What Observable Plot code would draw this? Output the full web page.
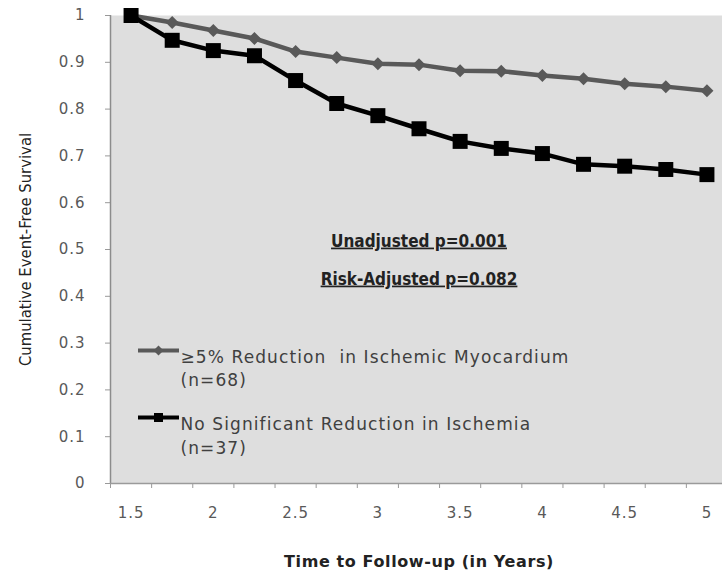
<!DOCTYPE html>
<html><head><meta charset="utf-8">
<script src="https://cdn.jsdelivr.net/npm/d3@7"></script>
<script src="https://cdn.jsdelivr.net/npm/@observablehq/plot@0.6"></script>
<style>
body{margin:0;background:#fff;}
#chart svg{display:block;overflow:hidden}
</style></head><body><div id="chart"></div>
<script>
const years = [1.5,1.75,2,2.25,2.5,2.75,3,3.25,3.5,3.75,4,4.25,4.5,4.75,5];
const reduced = [1.0,0.985,0.968,0.951,0.923,0.91,0.897,0.895,0.882,0.881,0.872,0.865,0.854,0.848,0.839];
const notReduced = [1.0,0.947,0.925,0.914,0.861,0.812,0.786,0.758,0.731,0.716,0.705,0.682,0.678,0.671,0.66];
const seriesNames = ["≥5% Reduction  in Ischemic Myocardium", "No Significant Reduction in Ischemia"];
const seriesN = ["(n=68)", "(n=37)"];
const xTickLabels = [1.5,2,2.5,3,3.5,4,4.5,5];
const yTicks = [0,0.1,0.2,0.3,0.4,0.5,0.6,0.7,0.8,0.9,1];
const annotations = ["Unadjusted p=0.001", "Risk-Adjusted p=0.082"];
const xTitle = "Time to Follow-up (in Years)";
const yTitle = "Cumulative Event-Free Survival";

const grayColor = "#595959";
const dataA = years.map((x,i)=>({x, y: reduced[i]}));
const dataB = years.map((x,i)=>({x, y: notReduced[i]}));
const boundaries = years.map(d=>d-0.125).concat([years[years.length-1]+0.125]);

const diamond = {draw(ctx,size){const r=Math.sqrt(size/Math.PI);ctx.moveTo(0,-r);ctx.lineTo(r,0);ctx.lineTo(0,r);ctx.lineTo(-r,0);ctx.closePath();}};
const square = {draw(ctx,size){const r=Math.sqrt(size/Math.PI);ctx.rect(-r,-r,2*r,2*r);}};
const hline = {draw(ctx,size){const r=Math.sqrt(size/Math.PI);ctx.moveTo(-r,0);ctx.lineTo(r,0);}};

const sans = "DejaVu Sans";
const cond = "DejaVu Sans Condensed";
const legendText = (t, dy) => Plot.text([t], {frameAnchor: "top-left", dx: 70, dy, text: d=>d, textAnchor: "start", fontFamily: sans, fontSize: 17, fill: "#404040"});

const chart = Plot.plot({
  width: 722, height: 572,
  marginLeft: 110, marginTop: 15, marginBottom: 89, marginRight: -5,
  style: {fontFamily: sans, fontSize: "15px", color: "#595959", background: "#fff"},
  x: {domain: [1.375, 5.125]},
  y: {domain: [0, 1]},
  marks: [
    Plot.frame({fill: "#dedede", stroke: null}),
    Plot.axisY({ticks: yTicks, tickFormat: d=>String(d), tickSize: 5, tickPadding: 20, stroke: "#999", fill: "#595959", label: null, fontSize: 15}),
    Plot.axisX({ticks: boundaries, tickFormat: ()=>"", tickSize: 5, stroke: "#999", label: null}),
    Plot.axisX({ticks: xTickLabels, tickFormat: d=>String(d), tickSize: 0, tickPadding: 24, fill: "#595959", label: null, fontSize: 15}),
    Plot.ruleX([1.375], {stroke: "#8c8c8c", strokeWidth: 1.5}),
    Plot.ruleY([0], {stroke: "#9a9a9a", strokeWidth: 1.5}),
    Plot.line(dataA, {x: "x", y: "y", stroke: grayColor, strokeWidth: 4.5}),
    Plot.dot(dataA, {x: "x", y: "y", symbol: diamond, r: 6.5, fill: grayColor, stroke: null}),
    Plot.line(dataB, {x: "x", y: "y", stroke: "#000", strokeWidth: 4.5}),
    Plot.dot(dataB, {x: "x", y: "y", symbol: square, r: 7.5, fill: "#000", stroke: null}),
    // annotations
    Plot.text([annotations[0]], {frameAnchor: "top", dx: 0, dy: 219, text: d=>d, fontWeight: "bold", fontFamily: cond, fontSize: 17, fill: "#222"}),
    Plot.text([annotations[1]], {frameAnchor: "top", dx: 0, dy: 257, text: d=>d, fontWeight: "bold", fontFamily: cond, fontSize: 17, fill: "#222"}),
    // legend
    Plot.dot([0], {frameAnchor: "top-left", dx: 48, dy: 335, symbol: hline, r: 20.5, stroke: grayColor, strokeWidth: 4}),
    Plot.dot([0], {frameAnchor: "top-left", dx: 48, dy: 335, symbol: diamond, r: 5, fill: grayColor}),
    legendText(seriesNames[0], 335),
    legendText(seriesN[0], 358),
    Plot.dot([0], {frameAnchor: "top-left", dx: 48, dy: 402, symbol: hline, r: 20.5, stroke: "#000", strokeWidth: 4}),
    Plot.dot([0], {frameAnchor: "top-left", dx: 48, dy: 402, symbol: square, r: 4.5, fill: "#000"}),
    legendText(seriesNames[1], 402),
    legendText(seriesN[1], 426),
    // axis titles
    Plot.text([xTitle], {frameAnchor: "bottom", dy: 83, text: d=>d, fontWeight: "bold", fontFamily: sans, fontSize: 16, fill: "#222"}),
    Plot.text([yTitle], {frameAnchor: "left", dx: -85, text: d=>d, textAnchor: "middle", rotate: -90, fontFamily: cond, fontSize: 16.5, fill: "#222"})
  ]
});
// typographic touches (underline, spacing) applied to the rendered text
d3.select(chart).selectAll("text").each(function(){
  const t = this.textContent;
  if (annotations.includes(t)) this.style.textDecoration = "underline";
  if (seriesNames.includes(t) || seriesN.includes(t)) this.style.letterSpacing = "1.1px";
  if (t === xTitle) this.style.letterSpacing = "0.6px";
});
d3.select(chart).selectAll("g[aria-label='x-axis tick label'] text, g[aria-label='y-axis tick label'] text").style("letter-spacing", "1px");
document.getElementById("chart").appendChild(chart);
</script></body></html>
